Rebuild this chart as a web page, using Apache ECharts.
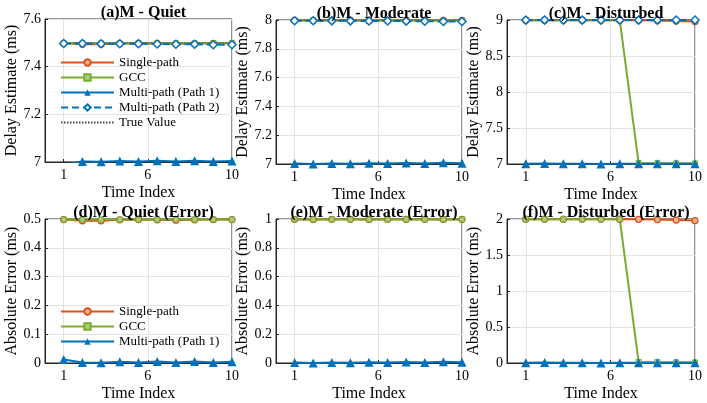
<!DOCTYPE html>
<html>
<head>
<meta charset="utf-8">
<script src="https://cdn.jsdelivr.net/npm/echarts@6/dist/echarts.min.js"></script>
<style>
html, body { margin: 0; padding: 0; background: #fff; }
#main { width: 707px; height: 403px; }
</style>
</head>
<body>
<div id="main"></div>
<script>
// data
var timeIndex = [1, 2, 3, 4, 5, 6, 7, 8, 9, 10];
var xTickValues = [1, 5.5, 10];

// (a) quiet - delay estimate
var singleQuiet = [7.498, 7.494, 7.494, 7.497, 7.498, 7.497, 7.496, 7.497, 7.498, 7.498];
var gccQuiet = [7.498, 7.498, 7.498, 7.498, 7.498, 7.498, 7.498, 7.498, 7.498, 7.498];
var path1Quiet = [6.988, 7.002, 7.001, 7.004, 7.002, 7.005, 7.002, 7.005, 7.002, 7.004];
var path2Quiet = [7.497, 7.497, 7.496, 7.496, 7.496, 7.495, 7.494, 7.494, 7.492, 7.492];
var trueQuiet = [7.0, 7.5];

// (b) moderate - delay estimate
var singleModerate = [7.998, 7.997, 7.998, 7.998, 7.997, 7.998, 7.998, 7.998, 7.997, 7.998];
var gccModerate = [7.997, 7.997, 7.997, 7.997, 7.997, 7.997, 7.997, 7.997, 7.997, 7.997];
var path1Moderate = [7.004, 7.0, 7.004, 7.001, 7.006, 7.003, 7.007, 7.004, 7.008, 7.005];
var path2Moderate = [7.995, 7.995, 7.994, 7.994, 7.993, 7.993, 7.992, 7.991, 7.99, 7.99];
var trueModerate = [7.0, 8.0];

// (c) disturbed - delay estimate
var singleDisturbed = [8.998, 8.998, 8.998, 8.998, 8.998, 8.998, 8.996, 8.992, 8.985, 8.978];
var gccDisturbed = [8.996, 8.996, 8.996, 8.996, 8.996, 8.996, 7.015, 7.012, 7.01, 7.008];
var path1Disturbed = [7.003, 7.008, 7.002, 7.003, 7.001, 7.002, 7.003, 7.002, 7.002, 7.002];
var path2Disturbed = [8.999, 8.999, 8.999, 8.999, 8.999, 8.999, 8.999, 8.999, 8.999, 8.999];
var trueDisturbed = [7.0, 9.0];

// (d) quiet - absolute error
var singleErrQuiet = [0.498, 0.494, 0.494, 0.497, 0.498, 0.497, 0.496, 0.497, 0.498, 0.498];
var gccErrQuiet = [0.498, 0.498, 0.498, 0.498, 0.498, 0.498, 0.498, 0.498, 0.498, 0.498];
var path1ErrQuiet = [0.012, 0.002, 0.001, 0.004, 0.002, 0.005, 0.002, 0.005, 0.002, 0.004];

// (e) moderate - absolute error
var singleErrModerate = [0.998, 0.997, 0.998, 0.998, 0.997, 0.998, 0.998, 0.998, 0.997, 0.998];
var gccErrModerate = [0.997, 0.997, 0.997, 0.997, 0.997, 0.997, 0.997, 0.997, 0.997, 0.997];
var path1ErrModerate = [0.004, 0.0, 0.004, 0.001, 0.006, 0.003, 0.007, 0.004, 0.008, 0.005];

// (f) disturbed - absolute error
var singleErrDisturbed = [1.998, 1.998, 1.998, 1.998, 1.998, 1.998, 1.996, 1.992, 1.985, 1.978];
var gccErrDisturbed = [1.996, 1.996, 1.996, 1.996, 1.996, 1.996, 0.015, 0.012, 0.01, 0.008];
var path1ErrDisturbed = [0.003, 0.008, 0.002, 0.003, 0.001, 0.002, 0.003, 0.002, 0.002, 0.002];

var SERIF = '"Liberation Serif", "Times New Roman", serif';
var AXIS = '#262626';

var panels = [
    {title: '(a)M - Quiet', left: 45, top: 19, width: 187, height: 143, min: 7, max: 7.6, interval: 0.2, yName: 'Delay Estimate (ms)',
     single: singleQuiet, gcc: gccQuiet, path1: path1Quiet, path2: path2Quiet, truth: trueQuiet},
    {title: '(b)M - Moderate', left: 276, top: 20, width: 186, height: 144, min: 7, max: 8, interval: 0.2, yName: 'Delay Estimate (ms)',
     single: singleModerate, gcc: gccModerate, path1: path1Moderate, path2: path2Moderate, truth: trueModerate},
    {title: '(c)M - Disturbed', left: 507, top: 20, width: 188, height: 144, min: 7, max: 9, interval: 0.5, yName: 'Delay Estimate (ms)',
     single: singleDisturbed, gcc: gccDisturbed, path1: path1Disturbed, path2: path2Disturbed, truth: trueDisturbed},
    {title: '(d)M - Quiet (Error)', left: 45, top: 219, width: 187, height: 144, min: 0, max: 0.5, interval: 0.1, yName: 'Absolute Error (ms)',
     single: singleErrQuiet, gcc: gccErrQuiet, path1: path1ErrQuiet},
    {title: '(e)M - Moderate (Error)', left: 276, top: 219, width: 186, height: 144, min: 0, max: 1, interval: 0.2, yName: 'Absolute Error (ms)',
     single: singleErrModerate, gcc: gccErrModerate, path1: path1ErrModerate},
    {title: '(f)M - Disturbed (Error)', left: 507, top: 219, width: 188, height: 144, min: 0, max: 2, interval: 0.5, yName: 'Absolute Error (ms)',
     single: singleErrDisturbed, gcc: gccErrDisturbed, path1: path1ErrDisturbed}
];

function pairs(ys) {
    return timeIndex.map(function (x, i) { return [x, ys[i]]; });
}

function drawPanels() {
    var chart = echarts.init(document.getElementById('main'));
    var grids = [], xAxes = [], yAxes = [], titles = [], series = [];

    panels.forEach(function (p, k) {
        grids.push({left: p.left, top: p.top, width: p.width, height: p.height,
            show: true, borderColor: AXIS, borderWidth: 1, backgroundColor: '#fff'});
        titles.push({text: p.title, left: p.left + p.width / 2, top: p.top - 19, textAlign: 'center',
            textStyle: {fontFamily: SERIF, fontWeight: 'bold', fontSize: 16, color: '#000'}});
        xAxes.push({
            gridIndex: k, type: 'value', min: 0, max: 10,
            name: 'Time Index', nameLocation: 'middle', nameGap: 23,
            nameTextStyle: {fontFamily: SERIF, fontSize: 16, color: '#000'},
            axisLine: {lineStyle: {color: AXIS}},
            axisTick: {inside: true, length: 3, customValues: xTickValues, lineStyle: {color: AXIS}},
            axisLabel: {customValues: xTickValues, fontFamily: SERIF, fontSize: 14, color: '#000', margin: 6,
                formatter: function (v) { return String(Math.round(v)); }},
            splitLine: {show: true, lineStyle: {color: '#e3e3e3'}}
        });
        yAxes.push({
            gridIndex: k, type: 'value', min: p.min, max: p.max, interval: p.interval,
            name: p.yName, nameLocation: 'middle', nameGap: 25,
            nameTextStyle: {fontFamily: SERIF, fontSize: 16, color: '#000'},
            axisLine: {show: true, lineStyle: {color: AXIS}},
            axisTick: {show: true, inside: true, length: 3, lineStyle: {color: AXIS}},
            axisLabel: {fontFamily: SERIF, fontSize: 14, color: '#000', margin: 4},
            splitLine: {show: true, lineStyle: {color: '#e3e3e3'}}
        });

        series.push({
            name: 'Single-path', type: 'line', xAxisIndex: k, yAxisIndex: k, data: pairs(p.single),
            symbol: 'circle', symbolSize: 6,
            itemStyle: {color: '#F3B59A', borderColor: '#D95319', borderWidth: 1.3},
            lineStyle: {color: '#D95319', width: 2}
        });
        series.push({
            name: 'GCC', type: 'line', xAxisIndex: k, yAxisIndex: k, data: pairs(p.gcc),
            symbol: 'rect', symbolSize: 5,
            itemStyle: {color: '#A9CC82', borderColor: '#77AC30', borderWidth: 1},
            lineStyle: {color: '#77AC30', width: 2}
        });
        series.push({
            name: 'Multi-path (Path 1)', type: 'line', xAxisIndex: k, yAxisIndex: k, data: pairs(p.path1),
            symbol: 'triangle', symbolSize: 9,
            itemStyle: {color: '#0072BD'},
            lineStyle: {color: '#0072BD', width: 2}
        });
        if (p.path2) {
            series.push({
                name: 'Multi-path (Path 2)', type: 'line', xAxisIndex: k, yAxisIndex: k, data: pairs(p.path2),
                symbol: 'diamond', symbolSize: 8,
                itemStyle: {color: '#fff', borderColor: '#0072BD', borderWidth: 1.5},
                lineStyle: {color: '#0072BD', width: 2, type: [7, 4]}
            });
            var tv = [];
            p.truth.forEach(function (t, j) {
                if (j > 0) tv.push('-');
                tv.push([timeIndex[0], t]);
                tv.push([timeIndex[timeIndex.length - 1], t]);
            });
            series.push({
                name: 'True Value', type: 'line', xAxisIndex: k, yAxisIndex: k, data: tv,
                symbol: 'none', connectNulls: false,
                itemStyle: {color: 'transparent', borderWidth: 0},
                lineStyle: {color: '#444', width: 1, type: [1.5, 1.5]}
            });
        }
    });

    var legendText = {fontFamily: SERIF, fontSize: 13, color: '#000', lineHeight: 13};
    var options = {
        animation: false,
        backgroundColor: '#fff',
        title: titles,
        grid: grids,
        xAxis: xAxes,
        yAxis: yAxes,
        legend: [
            {data: ['Single-path', 'GCC', 'Multi-path (Path 1)', 'Multi-path (Path 2)', 'True Value'],
             orient: 'vertical', left: 60, top: 56, padding: 0, itemWidth: 53, itemHeight: 8, itemGap: 2, textStyle: legendText},
            {data: ['Single-path', 'GCC', 'Multi-path (Path 1)'],
             orient: 'vertical', left: 60, top: 305, padding: 0, itemWidth: 53, itemHeight: 8, itemGap: 2, textStyle: legendText}
        ],
        series: series
    };
    chart.setOption(options);
}

drawPanels();
</script>
</body>
</html>
